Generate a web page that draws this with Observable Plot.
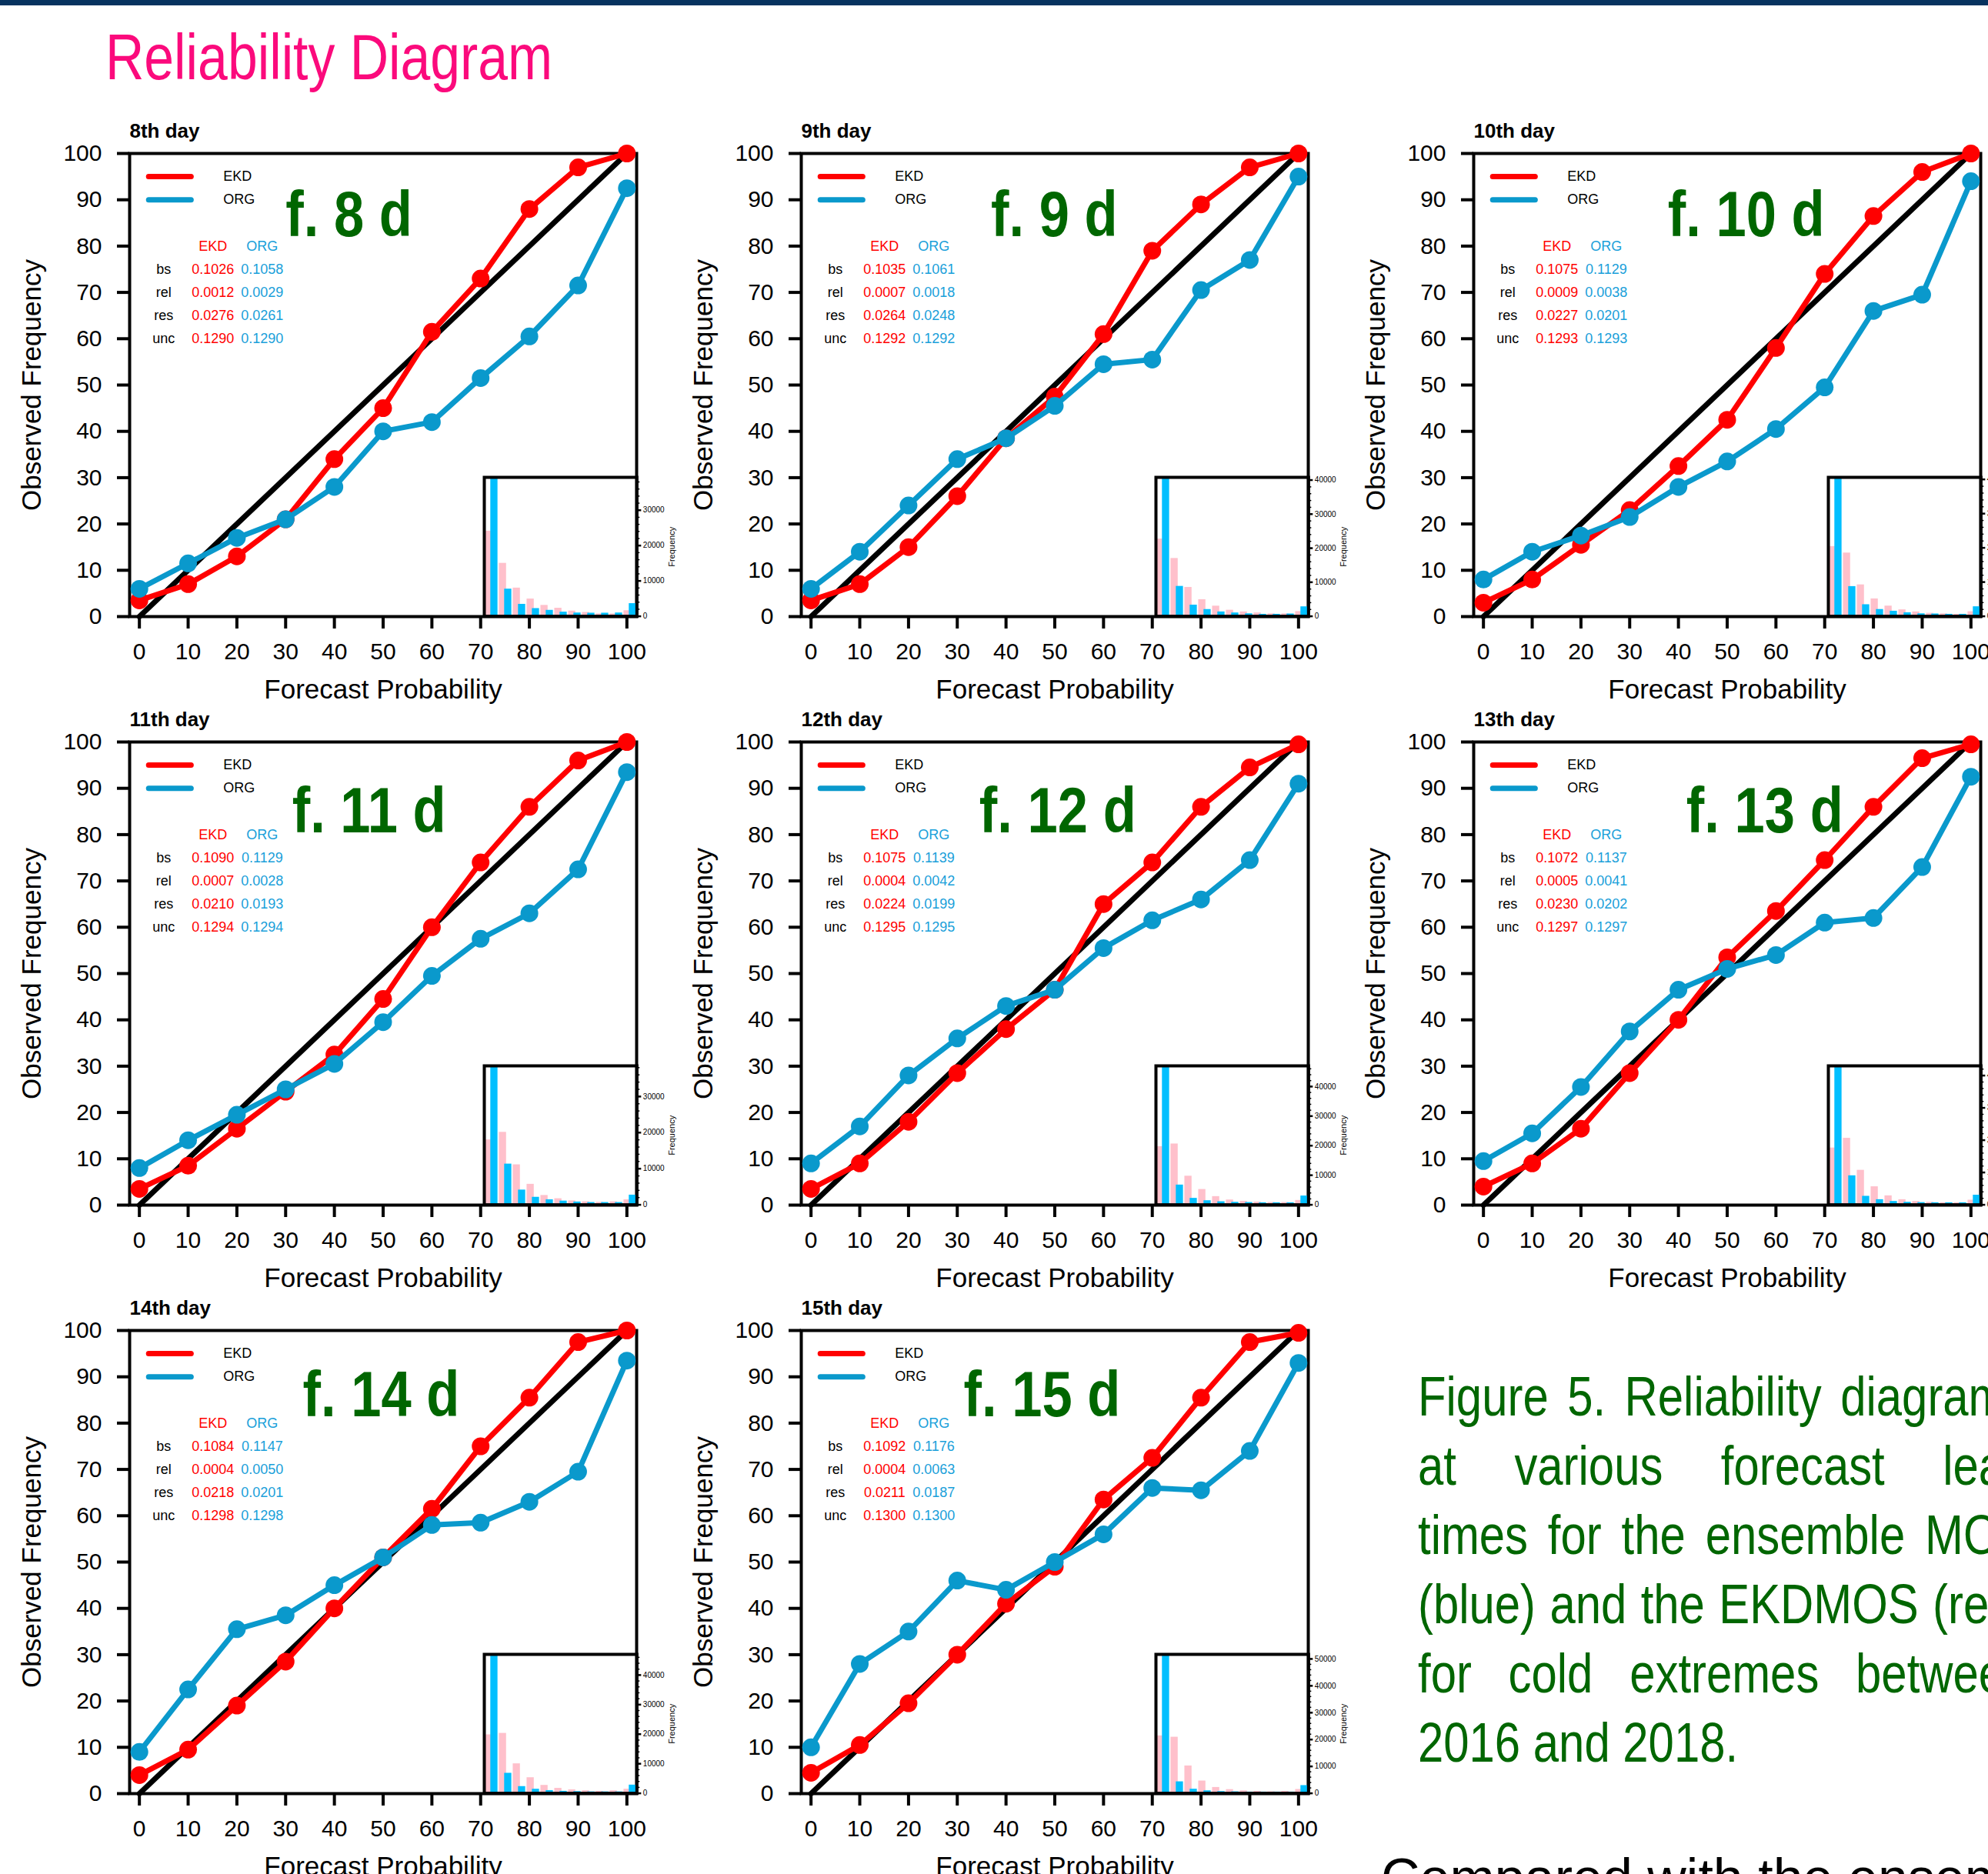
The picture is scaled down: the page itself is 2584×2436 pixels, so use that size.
<!DOCTYPE html>
<html>
<head>
<meta charset="utf-8">
<script src="https://cdn.jsdelivr.net/npm/d3@7"></script>
<script src="https://cdn.jsdelivr.net/npm/@observablehq/plot@0.6"></script>
<style>
  html, body { margin:0; padding:0; background:#fff; }
  body { width:2584px; height:2436px; overflow:hidden; position:relative; }
  #topbar { position:absolute; left:0; top:0; width:2584px; height:7px; background:#07335f; }
  #title { position:absolute; left:137px; top:32px; font-family:"Liberation Sans",Arial,sans-serif; font-size:84px; line-height:84px; color:#fb0a7c; white-space:nowrap; transform:scaleX(0.83); transform-origin:0 0; }
  .panel { position:absolute; }
  .panel svg { position:absolute; left:0; top:0; }
  #caption { position:absolute; left:1843px; top:1770px; width:970px; font-family:"Liberation Sans",Arial,sans-serif; font-size:73px; line-height:90px; color:#006600; transform:scaleX(0.82); transform-origin:0 0; }
  #caption div { text-align:justify; text-align-last:justify; white-space:nowrap; }
  #caption div.last { text-align-last:left; }
  #below { position:absolute; left:1795px; top:2396px; font-family:"Liberation Sans",Arial,sans-serif; font-size:70px; line-height:90px; color:#000; white-space:nowrap; }
</style>
</head>
<body>
<div id="topbar"></div>
<div id="title"></div>
<div id="panels"></div>
<div id="caption"></div>
<div id="below"></div>
<script>
// ---------------- DATA ----------------
const titleText = "Reliability Diagram";
const captionLines = ["Figure 5. Reliability diagrams", "at various forecast lead", "times for the ensemble MOS", "(blue) and the EKDMOS (red)", "for cold extremes between", "2016 and 2018."];
const belowText = "Compared with the ensemble MOS";

const probs = [0, 10, 20, 30, 40, 50, 60, 70, 80, 90, 100];      // forecast probability bins (x ticks)
const obsTicks = [0, 10, 20, 30, 40, 50, 60, 70, 80, 90, 100];   // observed frequency ticks
const perfect = [0, 100];                                        // perfect reliability line
const dayTitles = ["8th day", "9th day", "10th day", "11th day", "12th day", "13th day", "14th day", "15th day"];
const leadTags = ["f. 8 d", "f. 9 d", "f. 10 d", "f. 11 d", "f. 12 d", "f. 13 d", "f. 14 d", "f. 15 d"];
const seriesNames = ["EKD", "ORG"];
const statNames = ["bs", "rel", "res", "unc"];

// observed frequency (%) per forecast-probability bin
const ekd_d8  = [3.5, 7, 13, 21, 34, 45, 61.5, 73, 88, 97, 100];
const org_d8  = [6, 11.5, 17, 21, 28, 40, 42, 51.5, 60.5, 71.5, 92.5];
const ekd_d9  = [3.5, 7, 15, 26, 38.5, 47.5, 61, 79, 89, 97, 100];
const org_d9  = [6, 14, 24, 34, 38.5, 45.5, 54.5, 55.5, 70.5, 77, 95];
const ekd_d10 = [3, 8, 15.5, 23, 32.5, 42.5, 58, 74, 86.5, 96, 100];
const org_d10 = [8, 14, 17.5, 21.5, 28, 33.5, 40.5, 49.5, 66, 69.5, 94];
const ekd_d11 = [3.5, 8.5, 16.5, 24.5, 32.5, 44.5, 60, 74, 86, 96, 100];
const org_d11 = [8, 14, 19.5, 25, 30.5, 39.5, 49.5, 57.5, 63, 72.5, 93.5];
const ekd_d12 = [3.5, 9, 18, 28.5, 38, 46.5, 65, 74, 86, 94.5, 99.5];
const org_d12 = [9, 17, 28, 36, 43, 46.5, 55.5, 61.5, 66, 74.5, 91];
const ekd_d13 = [4, 9, 16.5, 28.5, 40, 53.5, 63.5, 74.5, 86, 96.5, 99.5];
const org_d13 = [9.5, 15.5, 25.5, 37.5, 46.5, 51, 54, 61, 62, 73, 92.5];
const ekd_d14 = [4, 9.5, 19, 28.5, 40, 51, 61.5, 75, 85.5, 97.5, 100];
const org_d14 = [9, 22.5, 35.5, 38.5, 45, 51, 58, 58.5, 63, 69.5, 93.5];
const ekd_d15 = [4.5, 10.5, 19.5, 30, 41, 49, 63.5, 72.5, 85.5, 97.5, 99.5];
const org_d15 = [10, 28, 35, 46, 44, 50, 56, 66, 65.5, 74, 93];

// Brier score decomposition: bs, rel, res, unc
const ekdStats_d8  = [0.1026, 0.0012, 0.0276, 0.1290];
const orgStats_d8  = [0.1058, 0.0029, 0.0261, 0.1290];
const ekdStats_d9  = [0.1035, 0.0007, 0.0264, 0.1292];
const orgStats_d9  = [0.1061, 0.0018, 0.0248, 0.1292];
const ekdStats_d10 = [0.1075, 0.0009, 0.0227, 0.1293];
const orgStats_d10 = [0.1129, 0.0038, 0.0201, 0.1293];
const ekdStats_d11 = [0.1090, 0.0007, 0.0210, 0.1294];
const orgStats_d11 = [0.1129, 0.0028, 0.0193, 0.1294];
const ekdStats_d12 = [0.1075, 0.0004, 0.0224, 0.1295];
const orgStats_d12 = [0.1139, 0.0042, 0.0199, 0.1295];
const ekdStats_d13 = [0.1072, 0.0005, 0.0230, 0.1297];
const orgStats_d13 = [0.1137, 0.0041, 0.0202, 0.1297];
const ekdStats_d14 = [0.1084, 0.0004, 0.0218, 0.1298];
const orgStats_d14 = [0.1147, 0.0050, 0.0201, 0.1298];
const ekdStats_d15 = [0.1092, 0.0004, 0.0211, 0.1300];
const orgStats_d15 = [0.1176, 0.0063, 0.0187, 0.1300];

// forecast frequency histograms (counts per bin); first ORG bin runs off the inset scale
const ekdHist_d8  = [24100, 15000, 8000, 4900, 3100, 2300, 1500, 1100, 700, 700, 1600];
const orgHist_d8  = [60000, 7700, 3400, 2200, 1700, 1200, 950, 900, 900, 950, 3600];
const ekdHist_d9  = [22700, 17000, 8500, 4900, 3000, 1800, 1300, 1000, 750, 750, 1400];
const orgHist_d9  = [60000, 8800, 3300, 2000, 1300, 1000, 750, 600, 600, 700, 2800];
const ekdHist_d10 = [20400, 18500, 9200, 5100, 3000, 1900, 1300, 900, 750, 600, 1350];
const orgHist_d10 = [60000, 8700, 3400, 2000, 1500, 1050, 750, 700, 600, 600, 2800];
const ekdHist_d11 = [18000, 20100, 11100, 5700, 2600, 1700, 1100, 850, 700, 850, 1400];
const orgHist_d11 = [60000, 11300, 4100, 2100, 1400, 1050, 800, 650, 650, 650, 2700];
const ekdHist_d12 = [19700, 20600, 9700, 5200, 2800, 1650, 1200, 950, 800, 800, 1500];
const orgHist_d12 = [60000, 6700, 2200, 1400, 1050, 870, 800, 700, 700, 700, 3000];
const ekdHist_d13 = [17600, 20600, 10700, 5600, 2800, 1600, 1050, 800, 650, 650, 1450];
const orgHist_d13 = [60000, 9000, 2650, 1600, 1050, 800, 700, 650, 650, 650, 3000];
const ekdHist_d14 = [19800, 20300, 10000, 5300, 2700, 1700, 1200, 900, 700, 900, 1400];
const orgHist_d14 = [60000, 6800, 2300, 1400, 950, 700, 600, 500, 500, 500, 2800];
const ekdHist_d15 = [21400, 20900, 10200, 4600, 2200, 1400, 960, 770, 580, 770, 1450];
const orgHist_d15 = [60000, 4300, 1550, 960, 670, 580, 480, 480, 480, 480, 2900];
const histMax = [39300, 40800, 40600, 38500, 47000, 43000, 47000, 51700];  // inset y-axis top

// ---------------- LAYOUT / STYLE ----------------
const FONT = '"Liberation Sans", Arial, Helvetica, sans-serif';
const RED = "#ff0000", BLUE = "#0a99cc", STATBLUE = "#1aa0da", PINK = "#ffc0cb", SKY = "#00bfff", GREEN = "#006600";
const colLeft = [168, 1041, 1915], rowTop = [199, 964, 1729];
const FW = 659, FH = 602;
const M = {l: 150, r: 70, t: 50, b: 125};
const tagX = [43, 49.9, 53.9, 47.1, 50.6, 57.7, 49.6, 47.4];
const tagY = [86.6, 86.6, 86.6, 84.9, 84.9, 84.9, 86, 86];
const tagSqueeze = 0.84;
const legendY = [95, 90], legendX = [1.9, 10.6], legendTextX = 17.2;
const statHeaderY = 80, statRowY = [75, 70, 65, 60], statColX = [5, 15.1, 25.2];
const insetX = [70.7, 102], insetTop = 30;

const panels = [
  {ekd: ekd_d8,  org: org_d8,  ekdS: ekdStats_d8,  orgS: orgStats_d8,  ekdH: ekdHist_d8,  orgH: orgHist_d8},
  {ekd: ekd_d9,  org: org_d9,  ekdS: ekdStats_d9,  orgS: orgStats_d9,  ekdH: ekdHist_d9,  orgH: orgHist_d9},
  {ekd: ekd_d10, org: org_d10, ekdS: ekdStats_d10, orgS: orgStats_d10, ekdH: ekdHist_d10, orgH: orgHist_d10},
  {ekd: ekd_d11, org: org_d11, ekdS: ekdStats_d11, orgS: orgStats_d11, ekdH: ekdHist_d11, orgH: orgHist_d11},
  {ekd: ekd_d12, org: org_d12, ekdS: ekdStats_d12, orgS: orgStats_d12, ekdH: ekdHist_d12, orgH: orgHist_d12},
  {ekd: ekd_d13, org: org_d13, ekdS: ekdStats_d13, orgS: orgStats_d13, ekdH: ekdHist_d13, orgH: orgHist_d13},
  {ekd: ekd_d14, org: org_d14, ekdS: ekdStats_d14, orgS: orgStats_d14, ekdH: ekdHist_d14, orgH: orgHist_d14},
  {ekd: ekd_d15, org: org_d15, ekdS: ekdStats_d15, orgS: orgStats_d15, ekdH: ekdHist_d15, orgH: orgHist_d15}
].map((p, i) => ({...p, day: dayTitles[i], tag: leadTags[i], hmax: histMax[i]}));

function pos(sc, v) {
  if (typeof sc.apply === "function") return sc.apply(v);
  const [d0, d1] = sc.domain, [r0, r1] = sc.range;
  return r0 + (v - d0) / (d1 - d0) * (r1 - r0);
}

document.getElementById("title").textContent = titleText;
document.getElementById("below").textContent = belowText;
const cap = document.getElementById("caption");
captionLines.forEach((t, k) => {
  const d = document.createElement("div");
  d.textContent = t;
  if (k === captionLines.length - 1) d.className = "last";
  cap.appendChild(d);
});

const host = document.getElementById("panels");
panels.forEach((P, i) => {
  const col = i % 3, row = Math.floor(i / 3);
  const rel = probs.map((p, k) => ({p, ekd: P.ekd[k], org: P.org[k]}));
  const stats = statNames.map((n, k) => ({n, ekd: P.ekdS[k], org: P.orgS[k], y: statRowY[k]}));
  const legend = seriesNames.map((name, k) => ({name, y: legendY[k]}));

  const main = Plot.plot({
    width: M.l + FW + M.r, height: M.t + FH + M.b,
    marginLeft: M.l, marginRight: M.r, marginTop: M.t, marginBottom: M.b,
    style: {fontFamily: FONT, fontSize: "30px", background: "transparent", maxWidth: "none", overflow: "visible", color: "#000"},
    x: {domain: [-2, 102]},
    y: {domain: [0, 100]},
    marks: [
      Plot.axisX({ticks: probs, tickSize: 16, tickPadding: 18, fontSize: 30, strokeWidth: 4, label: null}),
      Plot.axisY({ticks: obsTicks, tickSize: 16, tickPadding: 20, fontSize: 30, strokeWidth: 4, label: null}),
      Plot.frame({stroke: "#000", strokeWidth: 4}),
      Plot.line(perfect, {x: d => d, y: d => d, stroke: "#000", strokeWidth: 7}),
      Plot.line(rel, {x: "p", y: "ekd", stroke: RED, strokeWidth: 7}),
      Plot.dot(rel, {x: "p", y: "ekd", r: 11.5, fill: RED}),
      Plot.line(rel, {x: "p", y: "org", stroke: BLUE, strokeWidth: 7}),
      Plot.dot(rel, {x: "p", y: "org", r: 11.5, fill: BLUE}),
      Plot.link([legend[0]], {x1: legendX[0], x2: legendX[1], y1: "y", y2: "y", stroke: RED, strokeWidth: 7, strokeLinecap: "round"}),
      Plot.link([legend[1]], {x1: legendX[0], x2: legendX[1], y1: "y", y2: "y", stroke: BLUE, strokeWidth: 7, strokeLinecap: "round"}),
      Plot.text(legend, {x: legendTextX, y: "y", text: "name", textAnchor: "start", fontSize: 18, fill: "#000"}),
      Plot.text([seriesNames[0]], {x: statColX[1], y: statHeaderY, text: d => d, fill: RED, fontSize: 18}),
      Plot.text([seriesNames[1]], {x: statColX[2], y: statHeaderY, text: d => d, fill: STATBLUE, fontSize: 18}),
      Plot.text(stats, {x: statColX[0], y: "y", text: "n", fontSize: 18, fill: "#000"}),
      Plot.text(stats, {x: statColX[1], y: "y", text: d => d.ekd.toFixed(4), fontSize: 18, fill: RED}),
      Plot.text(stats, {x: statColX[2], y: "y", text: d => d.org.toFixed(4), fontSize: 18, fill: STATBLUE}),
      Plot.text([P.tag], {x: tagX[i], y: tagY[i], text: d => d, fontSize: 84, fontWeight: "bold", fill: GREEN}),
      Plot.text([P.day], {frameAnchor: "top-left", dy: -21, text: d => d, textAnchor: "start", lineAnchor: "bottom", fontSize: 26, fontWeight: "bold", fill: "#000"}),
      Plot.text(["Observed Frequency"], {frameAnchor: "left", dx: -127, rotate: -90, text: d => d, textAnchor: "middle", lineAnchor: "middle", fontSize: 35, fill: "#000"}),
      Plot.text(["Forecast Probability"], {frameAnchor: "bottom", dy: 95, text: d => d, textAnchor: "middle", lineAnchor: "middle", fontSize: 35, fill: "#000"})
    ]
  });

  // condense the green lead-time tag horizontally (narrow bold face in the original)
  main.querySelectorAll("text").forEach(t => {
    if (t.textContent === P.tag) {
      const x = +t.getAttribute("x") || 0, y = +t.getAttribute("y") || 0;
      const tr = t.getAttribute("transform") || "";
      t.setAttribute("transform", `${tr} translate(${x},${y}) scale(${tagSqueeze},1) translate(${-x},${-y})`);
    }
  });

  const div = document.createElement("div");
  div.className = "panel";
  div.style.left = (colLeft[col] - M.l) + "px";
  div.style.top = (rowTop[row] - M.t) + "px";
  div.appendChild(main);

  const sx = main.scale("x"), sy = main.scale("y");
  const ix0 = pos(sx, insetX[0]), ix1 = pos(sx, insetX[1]);
  const iy0 = pos(sy, insetTop), iy1 = pos(sy, 0);
  const iw = ix1 - ix0, ih = iy1 - iy0, bw = iw / probs.length;
  const hist = probs.map((p, k) => ({p, ekd: P.ekdH[k], org: P.orgH[k]}));

  const inset = Plot.plot({
    width: iw + 70, height: ih,
    marginLeft: 0, marginRight: 70, marginTop: 0, marginBottom: 0,
    style: {fontFamily: FONT, fontSize: "10px", background: "transparent", maxWidth: "none", overflow: "visible", color: "#000"},
    x: {type: "band", domain: probs, padding: 0, axis: null},
    y: {domain: [0, P.hmax], clamp: true},
    marks: [
      Plot.barY(hist, {x: "p", y: "ekd", fill: PINK, insetLeft: 0.08 * bw, insetRight: 0.40 * bw}),
      Plot.barY(hist, {x: "p", y: "org", fill: SKY, insetLeft: 0.46 * bw, insetRight: 0.02 * bw}),
      Plot.frame({stroke: "#000", strokeWidth: 4}),
      Plot.axisY({anchor: "right", ticks: d3.range(0, P.hmax, 2000), tickSize: 3, tickFormat: () => "", strokeWidth: 1.5, label: null}),
      Plot.axisY({anchor: "right", ticks: d3.range(0, P.hmax, 10000), tickSize: 5, tickPadding: 3, fontSize: 10, tickFormat: d3.format("d"), strokeWidth: 2.5, label: null}),
      Plot.text(["Frequency"], {frameAnchor: "right", dx: 46, rotate: -90, text: d => d, textAnchor: "middle", fontSize: 11, fill: "#000"})
    ]
  });
  inset.style.left = ix0 + "px";
  inset.style.top = iy0 + "px";
  div.appendChild(inset);
  host.appendChild(div);
});
</script>
</body>
</html>
